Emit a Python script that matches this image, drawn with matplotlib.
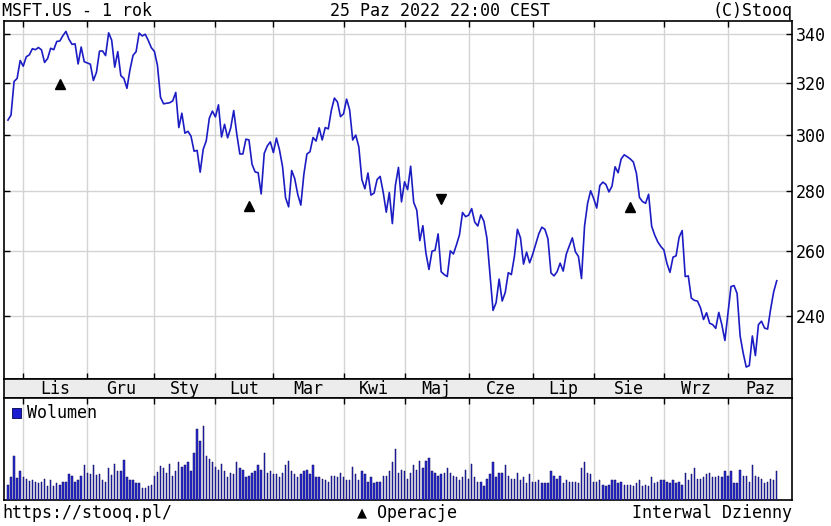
import numpy as np
import pandas as pd
import matplotlib
matplotlib.use("Agg")
import matplotlib.pyplot as plt
from matplotlib.patches import Rectangle
from matplotlib.ticker import FixedLocator, FixedFormatter, NullLocator

plt.rcParams['font.family'] = ['DejaVu Sans Mono', 'DejaVu Sans']

# MSFT.US daily close, 25.10.2021 - 25.10.2022
prices = [
    305.6, 307.5, 320.5, 321.7, 328.9, 326.6, 330.4, 331.2, 333.7, 333.3, 334.2, 333.2, 328.1, 329.7, 333.9, 333.3, 336.7,
    336.9, 339.1, 340.9, 337.6, 335.5, 335.7, 327.5, 334.4, 328.4,
    327.9, 327.4, 320.9, 324.1, 332.7, 332.8, 330.9, 340.3, 337.2, 326.2, 332.5, 322.8, 321.7, 317.8, 325.2, 331.0, 332.5,
    340.2, 339.0, 339.7, 337.1, 334.1,
    332.6, 326.9, 314.3, 311.8, 312.0, 312.2, 312.9, 316.2, 302.8, 308.2, 300.7, 301.4, 299.6, 294.1, 294.4, 286.6, 294.8,
    297.9, 306.3, 309.0,
    306.8, 311.4, 299.3, 304.0, 299.0, 302.6, 309.2, 300.4, 293.1, 293.1, 298.5,
    298.2, 289.4, 286.7, 286.4, 279.0, 293.3, 296.0, 297.5,
    293.6, 298.9, 294.6, 288.6, 277.7, 274.6, 287.2, 284.3, 278.8, 275.2, 285.9, 293.1, 293.9, 299.1, 297.8, 302.7, 298.2,
    302.8, 302.3, 309.3, 314.0, 312.5, 306.9,
    308.0, 313.6, 309.5, 298.2, 300.0, 295.7, 284.0, 280.8, 286.3, 278.6, 279.3, 284.0, 285.1, 279.6, 272.8, 279.5, 269.0,
    282.0, 288.3, 276.3,
    283.2, 280.5, 288.7, 276.1, 273.5, 263.4, 268.3, 259.4, 254.2, 260.0, 260.3, 265.6,
    253.5, 252.6, 252.0, 260.1, 259.1, 262.0, 265.3, 272.7, 271.3,
    271.8, 274.0, 269.5, 268.2, 271.9, 269.8, 264.2, 252.5, 241.7, 244.0, 251.2, 244.5, 247.1, 253.2, 252.6, 258.3, 267.1,
    264.3, 255.9, 259.7, 256.3,
    259.0, 262.3, 265.6, 267.8, 267.1, 264.0, 253.1, 252.2, 253.5, 256.2, 253.7, 259.0, 261.7, 264.3, 259.8, 258.3, 251.4,
    268.2, 275.8, 280.1,
    277.4, 274.2, 281.9, 283.1, 282.3, 279.7, 281.7, 288.5, 286.4, 291.3, 292.8, 292.1,
    291.3, 290.2, 286.2, 277.8, 276.4, 275.8, 278.9, 268.1, 265.2, 263.0, 261.5,
    260.4, 256.1, 253.3, 258.1, 258.5, 264.5, 266.7, 252.0, 252.2, 245.4, 244.7, 244.5, 242.5, 239.0, 241.0, 237.9, 237.5,
    236.4, 241.1, 237.5, 232.9,
    240.7, 248.9, 249.2, 246.8, 234.2, 229.3, 225.4, 225.8, 234.2, 228.6, 237.5, 238.5, 236.5, 236.2, 242.1, 247.3, 250.7,
]

# daily volume (relative units)
volume = [
    15.3, 22.7, 44, 21.7, 28.7, 23, 21.3, 18.7, 20, 18.3, 17, 18, 21.3, 13.7, 20, 14.3, 17, 15.3, 18.3, 18.3,
    26, 24.3, 18.3, 20, 23.7, 35, 27.3, 25.7, 35, 24.7, 26, 20.3, 18.3, 32, 24.7, 36.3, 29, 29, 39.7, 23.3,
    20.3, 20, 17, 17, 12.3, 12.3, 14, 15.3, 24.3, 28, 33.7, 32, 27.3, 36.3, 24.3, 29, 37.7, 33.3, 35, 37.7,
    29, 47, 71.3, 59.3, 73.7,
    44, 41, 37.7, 33.3, 30.3, 36.3, 29, 23, 27.3, 26, 38, 32, 30.3, 23, 24.3, 27.3, 29, 35, 30.3, 47,
    27.3, 29, 26, 26, 23, 27.3, 35, 39.3, 29, 26, 23, 26, 29, 30.3, 26, 35, 23, 23, 21.3, 20,
    18.3, 24.3, 24.3, 23, 27.3, 23, 20, 20, 33.3, 26, 20, 29, 26, 18.3, 23, 17, 18.3, 18.3, 24.3, 24.3,
    29, 37.7, 51.3,
    27.3, 30.3, 28.7, 21.3, 27.3, 35, 30.3, 39.3, 32, 39.3, 42.3, 29, 27.3, 24.3, 26, 27.3, 32, 27.3, 24.3, 23,
    20, 23, 30.3, 21.3, 36.3, 23, 18.3, 18.3, 14, 21.3, 26, 38, 23, 27.3, 27.3, 35, 24.3, 21.3, 21.3, 27.3,
    20, 23, 17, 26, 18.3, 18.3, 20, 17, 17, 17, 29, 24.3, 21.3, 24.3, 17, 20, 18.3, 18.3, 18.3, 17,
    32, 38,
    27.3, 26, 18.3, 18.3, 20, 15.3, 14, 15.3, 20, 20, 17, 18.3, 15.3, 15.3, 15.3, 14, 17, 20, 14, 15.3,
    14, 23, 17, 18.3, 20, 20, 18.3, 17, 20, 17, 18.3, 15.3, 27.3, 20, 26, 32, 21.3, 21.3, 23, 26,
    27.3, 23, 23, 24.3, 23, 29, 24.3, 29, 17, 17, 30.3, 24.3, 24.3, 18.3, 35, 24.3, 23, 21.3, 17, 18.3,
    21.3, 20, 29,
]

# trading sessions (US exchange holidays removed)
holidays = ['2021-11-25', '2021-12-24', '2022-01-17', '2022-02-21', '2022-04-15',
            '2022-05-30', '2022-06-20', '2022-07-04', '2022-09-05']
days = pd.bdate_range('2021-10-25', '2022-10-25')
days = days[~days.isin(pd.to_datetime(holidays))]

month_names = ['Sty', 'Lut', 'Mar', 'Kwi', 'Maj', 'Cze', 'Lip', 'Sie', 'Wrz', 'Paz', 'Lis', 'Gru']
price_ticks = [240, 260, 280, 300, 320, 340]

# operations markers
op_idx = [17, 79, 142, 204]
op_price = [319.5, 274.9, 277.3, 274.6]
op_kind = ['^', '^', 'v', '^']

x = np.arange(len(prices))
month_start = [i for i in range(1, len(days)) if days[i].month != days[i - 1].month]

W, H = 831, 526
fig = plt.figure(figsize=(W / 100, H / 100), dpi=100)


def box(x0, y0, x1, y1):
    return [x0 / W, 1 - y1 / H, (x1 - x0) / W, (y1 - y0) / H]


ax = fig.add_axes(box(4, 21, 792, 379))
band = fig.add_axes(box(4, 379, 792, 398))
axv = fig.add_axes(box(4, 398, 792, 500))

xmin, xmax = -1.3, 257
grid_c = '#d4d4d4'

# price panel
ax.plot(x, prices, color='#1c1cc4', lw=1.2, zorder=3)
for i, p, k in zip(op_idx, op_price, op_kind):
    ax.plot(i, p, marker=k, color='black', markersize=7, zorder=4)
ax.set_yscale('log')
ax.set_ylim(222.1, 345.3)
ax.set_xlim(xmin, xmax)
ax.yaxis.set_major_locator(FixedLocator(price_ticks))
ax.yaxis.set_major_formatter(FixedFormatter([str(t) for t in price_ticks]))
ax.yaxis.set_minor_locator(NullLocator())
ax.set_xticks(month_start)
ax.tick_params(axis='y', left=True, right=True, labelleft=False, labelright=True,
               direction='in', length=4, width=1, labelsize=12, pad=3)
ax.tick_params(axis='x', top=True, bottom=True, labelbottom=False,
               direction='in', length=4, width=1)
ax.grid(True, color=grid_c, lw=1)
ax.set_axisbelow(True)

# month band
band.set_facecolor('#ececec')
band.set_xlim(xmin, xmax)
band.set_xticks([])
band.set_yticks([])
bounds = month_start + [xmax]
for a, b in zip(bounds[:-1], bounds[1:]):
    band.text((a + b) / 2, 0.45, month_names[days[a].month - 1], ha='center', va='center',
              fontsize=12, transform=band.get_xaxis_transform())

# volume panel
axv.bar(x, volume, width=0.45, color='#2a2ad8', edgecolor='#0c0c55', lw=0.35, zorder=3)
axv.set_xlim(xmin, xmax)
axv.set_ylim(0, 102)
axv.set_yticks([])
axv.set_xticks(month_start)
axv.tick_params(axis='x', top=True, bottom=False, labelbottom=False,
                direction='in', length=4, width=1)
axv.grid(True, axis='x', color=grid_c, lw=1)
axv.set_axisbelow(True)
axv.add_patch(Rectangle((0.0102, 0.80), 0.0114, 0.10, transform=axv.transAxes,
                        facecolor='#1a1ad0', edgecolor='#000050', lw=0.6, zorder=5))
axv.text(0.029, 0.85, 'Wolumen', transform=axv.transAxes, ha='left', va='center', fontsize=12)

for a in (ax, band, axv):
    for s in a.spines.values():
        s.set_linewidth(1.2)
        s.set_color('black')

# header / footer
fig.text(2 / W, 1 - 15.5 / H, 'MSFT.US - 1 rok', ha='left', va='baseline', fontsize=12)
fig.text(440 / W, 1 - 15.5 / H, '25 Paz 2022 22:00 CEST', ha='center', va='baseline', fontsize=12)
fig.text(792 / W, 1 - 15.5 / H, '(C)Stooq', ha='right', va='baseline', fontsize=12)
fig.text(2 / W, 1 - 518 / H, 'https://stooq.pl/', ha='left', va='baseline', fontsize=12)
fig.text(357 / W, 1 - 518 / H, '▲ Operacje', ha='left', va='baseline', fontsize=12)
fig.text(792 / W, 1 - 518 / H, 'Interwal Dzienny', ha='right', va='baseline', fontsize=12)

fig.savefig('out.png', dpi=100)
